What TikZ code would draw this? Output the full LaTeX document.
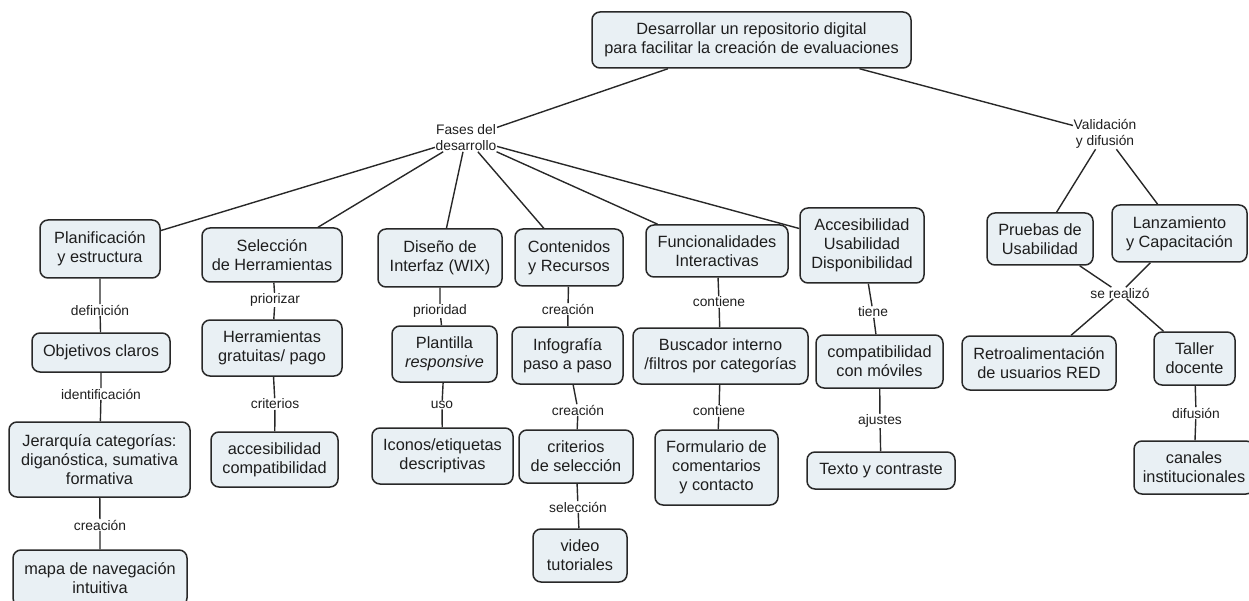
\documentclass[tikz,border=0pt]{standalone}
\usepackage{fontspec}
\setmainfont{Liberation Sans}
\definecolor{boxfill}{RGB}{233,240,244}
\definecolor{bordercol}{RGB}{40,40,40}
\definecolor{linecol}{RGB}{40,40,40}
\definecolor{textcol}{RGB}{30,30,30}
\tikzset{
  box/.style={draw=bordercol, line width=1.5pt, rounded corners=8pt, fill=boxfill,
    align=center, font=\fontsize{16.3}{19}\selectfont, inner sep=0pt, text=textcol},
  lbl/.style={font=\fontsize{13.8}{16}\selectfont, align=center, inner sep=0.5pt, text=textcol},
  conn/.style={draw=linecol, line width=1.4pt}
}
\begin{document}
\begin{tikzpicture}[x=1pt,y=-1pt]
\useasboundingbox (0,0) rectangle (1249,601);
% root
\node[box, minimum width=319pt, minimum height=56pt] (root) at (751.5,40) {Desarrollar un repositorio digital\\para facilitar la creación de evaluaciones};
\node[lbl] (fases) at (466,138) {Fases del\\desarrollo};
\node[lbl] (valid) at (1105,134) {Validación\\y difusión};
% level 2
\node[box, minimum width=120pt, minimum height=58pt] (plan) at (100,249) {Planificación\\y estructura};
\node[box, minimum width=140pt, minimum height=54pt] (sel) at (272,255) {Selección\\de Herramientas};
\node[box, minimum width=124pt, minimum height=58pt] (dis) at (440,258) {Diseño de\\Interfaz (WIX)};
\node[box, minimum width=108pt, minimum height=57pt] (con) at (569,257.5) {Contenidos\\y Recursos};
\node[box, minimum width=142pt, minimum height=52pt] (fun) at (717,251) {Funcionalidades\\Interactivas};
\node[box, minimum width=124pt, minimum height=75pt] (acc) at (862,245.5) {Accesibilidad\\Usabilidad\\Disponibilidad};
\node[box, minimum width=106pt, minimum height=52pt] (pru) at (1040,239) {Pruebas de\\Usabilidad};
\node[box, minimum width=135pt, minimum height=57pt] (lan) at (1179.5,233.5) {Lanzamiento\\y Capacitación};
% level 3
\node[box, minimum width=138pt, minimum height=39pt] (obj) at (101,352.5) {Objetivos claros};
\node[box, minimum width=140pt, minimum height=56pt] (her) at (272,348) {Herramientas\\gratuitas/ pago};
\node[box, minimum width=105pt, minimum height=56pt] (pla) at (444.5,354) {Plantilla\\\textit{responsive}};
\node[box, minimum width=111pt, minimum height=57pt] (inf) at (567.5,355.5) {Infografía\\paso a paso};
\node[box, minimum width=175pt, minimum height=56pt] (bus) at (720.5,356) {Buscador interno\\/filtros por categorías};
\node[box, minimum width=127pt, minimum height=53pt] (com) at (879.5,361.5) {compatibilidad\\con móviles};
\node[box, minimum width=154pt, minimum height=54pt] (ret) at (1039,363) {Retroalimentación\\de usuarios RED};
\node[box, minimum width=81pt, minimum height=53pt] (tal) at (1194.5,358.5) {Taller\\docente};
\node[lbl] (sereal) at (1120,293) {se realizó};
% level 4
\node[box, minimum width=181pt, minimum height=75pt] (jer) at (99.5,459.5) {Jerarquía categorías:\\diganóstica, sumativa\\formativa};
\node[box, minimum width=127pt, minimum height=55pt] (acm) at (274.5,459.5) {accesibilidad\\compatibilidad};
\node[box, minimum width=141pt, minimum height=56pt] (ico) at (442.5,456) {Iconos/etiquetas\\descriptivas};
\node[box, minimum width=114pt, minimum height=53pt] (cri) at (576,456.5) {criterios\\de selección};
\node[box, minimum width=123pt, minimum height=75pt] (for) at (716.5,467.5) {Formulario de\\comentarios\\y contacto};
\node[box, minimum width=148pt, minimum height=37pt] (tex) at (881,470.5) {Texto y contraste};
\node[box, minimum width=120pt, minimum height=53pt] (can) at (1194,467.5) {canales\\institucionales};
% level 5
\node[box, minimum width=174pt, minimum height=56pt] (map) at (100,578) {mapa de navegación\\intuitiva};
\node[box, minimum width=94pt, minimum height=53pt] (vid) at (580,555.5) {video\\tutoriales};
% edge labels
\node[lbl] (l1) at (100,310) {definición};
\node[lbl] (l2) at (101,394) {identificación};
\node[lbl] (l3) at (100,525) {creación};
\node[lbl] (l4) at (275,300) {priorizar};
\node[lbl] (l5) at (275,404) {criterios};
\node[lbl] (l6) at (440,311) {prioridad};
\node[lbl] (l7) at (442,405) {uso};
\node[lbl] (l8) at (568,309) {creación};
\node[lbl] (l9) at (578,410) {creación};
\node[lbl] (l10) at (578,507) {selección};
\node[lbl] (l11) at (719,302) {contiene};
\node[lbl] (l12) at (719,411) {contiene};
\node[lbl] (l13) at (873,312) {tiene};
\node[lbl] (l14) at (880,421) {ajustes};
\node[lbl] (l15) at (1196,413) {difusión};
% connectors
\draw[conn] (root) -- (fases);
\draw[conn] (root) -- (valid);
\foreach \t in {plan,sel,dis,con,fun,acc} \draw[conn] (fases) -- (\t);
\draw[conn] (valid) -- (pru);
\draw[conn] (valid) -- (lan);
\draw[conn] (pru) -- (sereal);
\draw[conn] (lan) -- (sereal);
\draw[conn] (sereal) -- (ret);
\draw[conn] (sereal) -- (tal);
\draw[conn] (plan) -- (l1) -- (obj);
\draw[conn] (obj) -- (l2) -- (jer);
\draw[conn] (jer) -- (l3) -- (map);
\draw[conn] (sel) -- (l4) -- (her);
\draw[conn] (her) -- (l5) -- (acm);
\draw[conn] (dis) -- (l6) -- (pla);
\draw[conn] (pla) -- (l7) -- (ico);
\draw[conn] (con) -- (l8) -- (inf);
\draw[conn] (inf) -- (l9) -- (cri);
\draw[conn] (cri) -- (l10) -- (vid);
\draw[conn] (fun) -- (l11) -- (bus);
\draw[conn] (bus) -- (l12) -- (for);
\draw[conn] (acc) -- (l13) -- (com);
\draw[conn] (com) -- (l14) -- (tex);
\draw[conn] (tal) -- (l15) -- (can);
\end{tikzpicture}
\end{document}
